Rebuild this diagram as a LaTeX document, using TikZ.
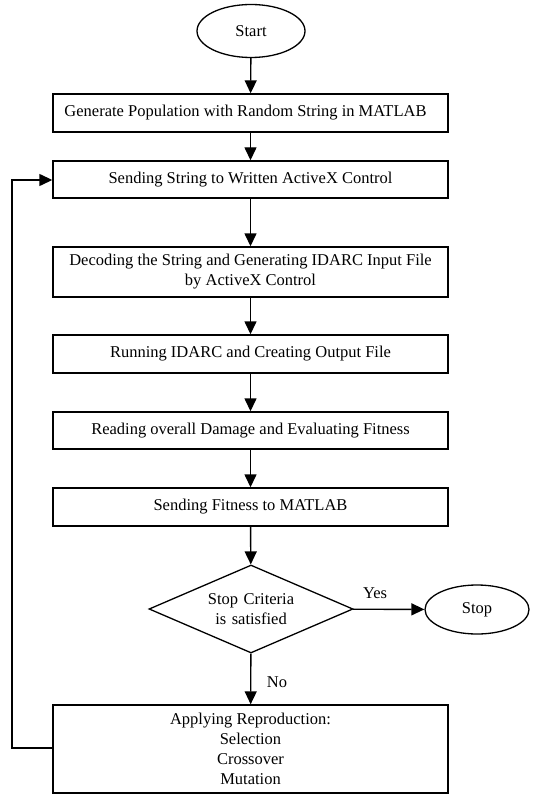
\documentclass[tikz,border=0pt]{standalone}
\usepackage{fontspec}
\setmainfont{Liberation Serif}
\usetikzlibrary{arrows.meta,shapes.geometric}
\begin{document}
\begin{tikzpicture}[x=1pt,y=-1pt,
  every node/.style={font=\fontsize{16.5}{20}\selectfont},
  procbox/.style={draw,line width=1.4pt,minimum width=395pt,inner sep=0pt,align=center},
  term/.style={draw,ellipse,line width=1.3pt,inner sep=0pt},
  dec/.style={draw,diamond,line width=1.3pt,inner sep=0pt,minimum width=204pt,minimum height=88pt,aspect=2.3,align=center},
  flow/.style={line width=1.4pt,-{Triangle[length=13pt,width=12pt]}},
  lbl/.style={inner sep=0pt}]
\useasboundingbox (0,0) rectangle (556,794);
\node[term,minimum width=108pt,minimum height=53pt] (start) at (251,31) {Start};
\node[procbox,minimum height=38pt] (b1) at (250.5,113) {Generate Population with Random String in MATLAB\hspace*{10pt}};
\node[procbox,minimum height=37pt] (b2) at (250.5,179.5) {Sending String to Written ActiveX Control};
\node[procbox,minimum height=50pt] (b3) at (250.5,272) {Decoding the String and Generating IDARC Input File\\by ActiveX Control};
\node[procbox,minimum height=38pt] (b4) at (250.5,354) {Running IDARC and Creating Output File};
\node[procbox,minimum height=37pt] (b5) at (250.5,430.5) {Reading overall Damage and Evaluating Fitness};
\node[procbox,minimum height=38pt] (b6) at (250.5,507) {Sending Fitness to MATLAB};
\node[dec,text width=120pt] (d) at (251,609) {Stop Criteria\\is satisfied};
\node[term,minimum width=104pt,minimum height=49pt] (stop) at (477,609.5) {Stop};
\node[procbox,minimum height=88pt] (b7) at (250.5,749) {Applying Reproduction:\\Selection\\Crossover\\Mutation};
\coordinate (lb) at (12,748);
\coordinate (lt) at (12,180);
\draw[flow] (start) -- (b1);
\draw[flow] (b1) -- (b2);
\draw[flow] (b2) -- (b3);
\draw[flow] (b3) -- (b4);
\draw[flow] (b4) -- (b5);
\draw[flow] (b5) -- (b6);
\draw[flow] (b6) -- (d);
\draw[flow] (d) -- (stop);
\draw[flow] (d) -- (b7);
\draw[flow] (b7.west |- lb) -- (lb) -- (lt) -- (b2.west |- lt);
\node[lbl] (yes) at (375,593) {Yes};
\node[lbl] (no) at (277,682) {No};
\end{tikzpicture}
\end{document}
